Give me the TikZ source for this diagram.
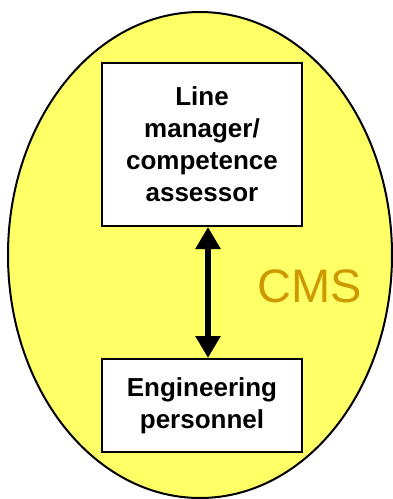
\documentclass[tikz,border=0pt]{standalone}
\usepackage{fontspec}
\setmainfont{Liberation Sans}
\usetikzlibrary{arrows.meta, positioning}

\definecolor{cmsyellow}{RGB}{255,255,102}
\definecolor{cmsgold}{RGB}{204,153,0}

\begin{document}
\begin{tikzpicture}[
    x=1pt, y=-1pt,
    node distance=131pt,
    role/.style={rectangle, draw=black, fill=white, line width=2pt, minimum width=200pt, text width=190pt, align=center, font=\fontsize{26}{32}\selectfont\bfseries},
    link/.style={{Triangle[width=24pt,length=22pt]}-{Triangle[width=24pt,length=22pt]}, line width=6.5pt}
]
\useasboundingbox (0,0) rectangle (392,499);

% the CMS boundary
\draw[fill=cmsyellow, line width=2pt] (200,255) ellipse [x radius=192, y radius=243];

\node[role, minimum height=163pt] (assessor) at (202,144.5) {Line\\manager/\\competence\\assessor};
\node[role, minimum height=93pt, below=of assessor] (personnel) {Engineering\\personnel};

\node[text=cmsgold, font=\fontsize{47}{56}\selectfont] (cms) at (310,286) {CMS};

\draw[link] ([xshift=6pt]assessor.south) -- ([xshift=6pt]personnel.north);

\end{tikzpicture}
\end{document}
